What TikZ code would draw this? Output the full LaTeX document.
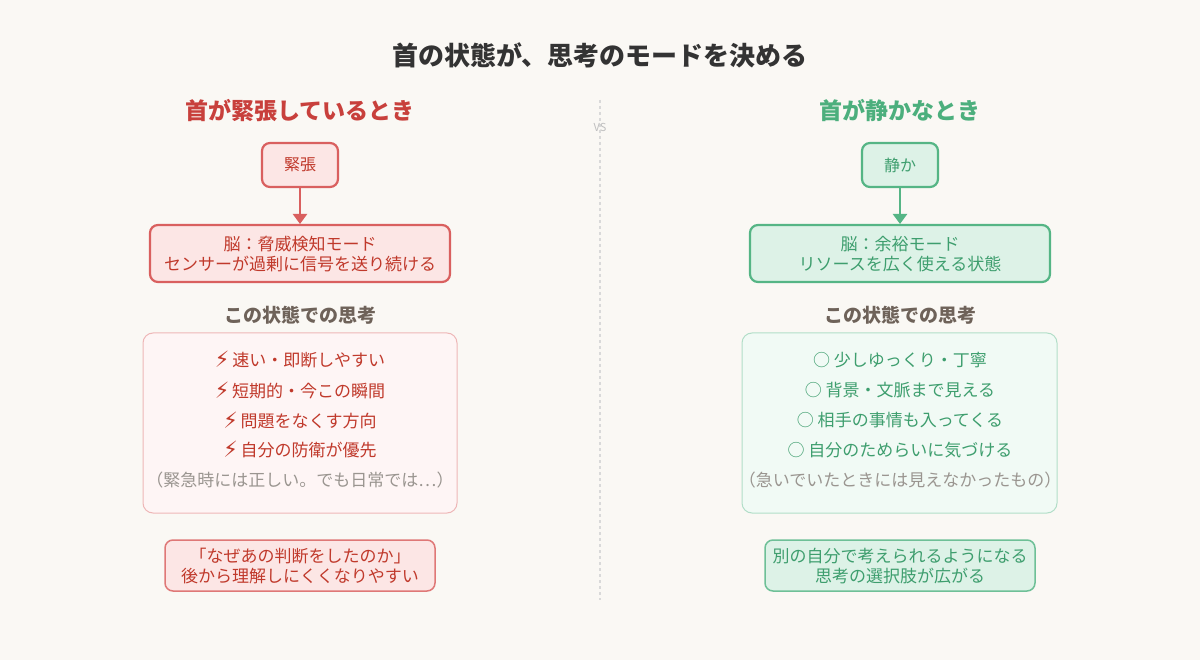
\documentclass[tikz,border=0pt]{standalone}
\usepackage{fontspec}
\setmainfont{Noto Sans CJK JP}
\newfontfamily\sym{DejaVu Sans}
\usetikzlibrary{arrows.meta}
\definecolor{bg}{HTML}{FAF8F4}
\definecolor{rs}{HTML}{D9605F}
\definecolor{rf}{HTML}{FCE6E5}
\definecolor{rt}{HTML}{C0392B}
\definecolor{gs}{HTML}{55B585}
\definecolor{gf}{HTML}{DDF2E7}
\definecolor{gt}{HTML}{3E9E6E}
\definecolor{hd}{HTML}{6E6259}
\definecolor{nt}{HTML}{9A9590}
\tikzset{
 box/.style={rounded corners=8pt,line width=2.2pt,align=center,inner sep=0},
 soft/.style={rounded corners=10pt,line width=1pt},
 t/.style={font=\fontsize{17}{20}\selectfont},
}
\begin{document}
\begin{tikzpicture}[x=1pt,y=-1pt]
\fill[bg] (0,0) rectangle (1200,660);
\useasboundingbox (0,0) rectangle (1200,660);
\node (title) at (600,55) {\fontsize{26}{30}\selectfont\bfseries\color[HTML]{333333}首の状態が、思考のモードを決める};
\draw[dashed,line width=1.2pt,color=black!15] (600,100) -- (600,600);
\node (vs) at (600,127) {\fontsize{11}{12}\selectfont\color{black!25}VS};
% left
\node (lh) at (300,111) {\fontsize{23}{27}\selectfont\bfseries\color[HTML]{C8403C}首が緊張しているとき};
\draw[box,draw=rs,fill=rf] (262,143) rectangle (338,187);
\node[t,text=rt] (lt) at (300,165) {\fontsize{16}{20}\selectfont 緊張};
\draw[box,draw=rs,fill=rf] (150,225) rectangle (450,282);
\node[t,text=rt,align=center] (lb) at (300,254) {\fontsize{17}{26}\selectfont 脳：脅威検知モード\\ センサーが過剰に信号を送り続ける};
\draw[-{Triangle[length=10pt,width=14pt]},line width=2.2pt,rs] (300,188) -- (300,224);
\node (lhs) at (300,315) {\fontsize{19}{22}\selectfont\bfseries\color{hd}この状態での思考};
\draw[soft,draw=rs!45,fill=rf!40] (143,333) rectangle (457,513);
\foreach \y/\s in {360/速い・即断しやすい,390/短期的・今この瞬間,420/問題をなくす方向,450/自分の防衛が優先}
  \node[t,text=rt] at (300,\y) {\raisebox{-1pt}{\scalebox{1.15}[1.25]{\sym\bfseries\fontsize{18}{18}\selectfont ⚡}}\,\s};
\node[t,text=nt] (ln) at (300,480) {（緊急時には正しい。でも日常では…）};
\draw[rounded corners=8pt,line width=1.5pt,draw=rs!85,fill=rf] (165,540) rectangle (435,591);
\node[t,text=rt,align=center] (lq) at (300,566) {\fontsize{17}{22}\selectfont 「なぜあの判断をしたのか」\\ 後から理解しにくくなりやすい};
% right
\node (rh) at (900,111) {\fontsize{23}{27}\selectfont\bfseries\color[HTML]{4CAF7D}首が静かなとき};
\draw[box,draw=gs,fill=gf] (862,143) rectangle (938,187);
\node[t,text=gt] (rtt) at (900,165) {\fontsize{16}{20}\selectfont 静か};
\draw[box,draw=gs,fill=gf] (750,225) rectangle (1050,282);
\node[t,text=gt,align=center] (rb) at (900,254) {\fontsize{17}{26}\selectfont 脳：余裕モード\\ リソースを広く使える状態};
\draw[-{Triangle[length=10pt,width=14pt]},line width=2.2pt,gs] (900,188) -- (900,224);
\node (rhs) at (900,315) {\fontsize{19}{22}\selectfont\bfseries\color{hd}この状態での思考};
\draw[soft,draw=gs!45,fill=gf!40] (742,333) rectangle (1057,513);
\foreach \y/\s in {360/少しゆっくり・丁寧,390/背景・文脈まで見える,420/相手の事情も入ってくる,450/自分のためらいに気づける}
  \node[t,text=gt] at (900,\y) {○\ \s};
\node[t,text=nt] (rn) at (900,480) {（急いでいたときには見えなかったもの）};
\draw[rounded corners=8pt,line width=1.5pt,draw=gs!85,fill=gf] (765,540) rectangle (1035,591);
\node[t,text=gt,align=center] (rq) at (900,566) {\fontsize{17}{22}\selectfont 別の自分で考えられるようになる\\ 思考の選択肢が広がる};
\end{tikzpicture}
\end{document}
